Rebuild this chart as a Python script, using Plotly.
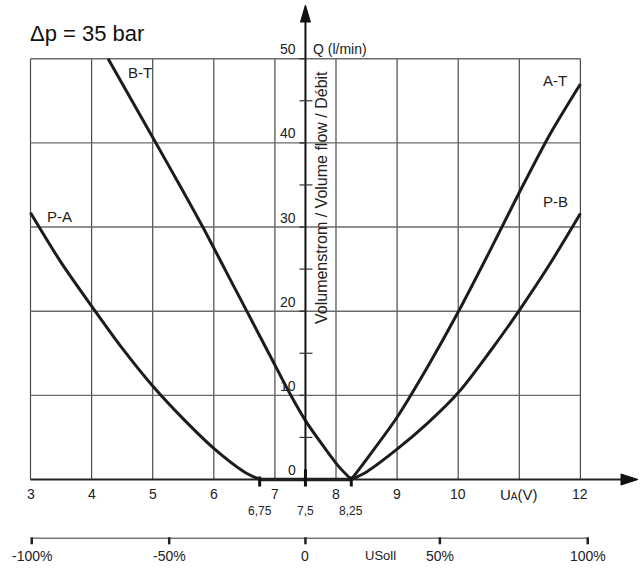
import plotly.graph_objects as go

# ---------------- data ----------------
pa_x = [3, 3.5, 4, 4.5, 5, 5.5, 6, 6.5, 6.75]
pa_y = [31.7, 25.8, 20.6, 15.6, 11.1, 7.2, 3.7, 0.9, 0]

bt_x = [4.27, 4.66, 5.05, 5.44, 5.82, 6.18, 6.54, 6.9, 7.26, 7.5, 7.8, 8.05, 8.25]
bt_y = [50, 45, 40, 35, 30, 25, 20, 15, 10, 7.0, 3.9, 1.5, 0]

at_x = [8.25, 8.5, 9, 9.5, 10, 10.5, 11, 11.5, 12]
at_y = [0, 2.4, 7.4, 13.4, 19.9, 26.9, 34.1, 41.0, 47.0]

pb_x = [8.25, 8.5, 9, 9.5, 10, 10.5, 11, 11.5, 12]
pb_y = [0, 0.9, 3.6, 6.7, 10.3, 15.0, 20.1, 25.6, 31.6]

deadband_x = [6.75, 8.25]
deadband_y = [0, 0]

curve_labels = ["P-A", "B-T", "A-T", "P-B"]
curve_label_x = [3.48, 4.79, 11.58, 11.6]
curve_label_y = [31.3, 48.4, 47.4, 33.0]

x_ticks = [3, 4, 5, 6, 7, 8, 9, 10, 12]
x_tick_labels = ["3", "4", "5", "6", "7", "8", "9", "10", "12"]
x_unit_pos = 11
x_unit_label = "U<span style='font-size:10px'>A</span>(V)"

band_ticks = [6.75, 7.5, 8.25]
band_labels = ["6,75", "7,5", "8,25"]

y_ticks = [0, 10, 20, 30, 40, 50]
y_minor = [5, 15, 25, 35, 45]

pct_pos = [3.02, 5.27, 7.5, 9.70, 12.12]
pct_labels = ["-100%", "-50%", "0", "50%", "100%"]
usoll_pos = 8.73

x_grid = [3, 4, 5, 6, 7, 8, 9, 10, 11, 12]
y_grid = [10, 20, 30, 40, 50]

# ---------------- geometry (pixel mapping) ----------------
W, H = 643, 569
PX_X = 61.1   # px per x unit
PX_Y = 8.416  # px per y unit
X0PX, Y0PX = 30.5, 479.5
xr = [3 - X0PX / PX_X, 3 + (W - X0PX) / PX_X]
yr = [-(H - Y0PX) / PX_Y, Y0PX / PX_Y]

def dx(px):
    return px / PX_X

def dy(px):
    return px / PX_Y

FONT = "Liberation Sans, Arial, sans-serif"
NARROW = "Liberation Sans Narrow, Arial Narrow, Liberation Sans, Arial, sans-serif"
CURVE = "#1c1c1c"

fig = go.Figure()
shapes = []
ann = []

# grid
for gx in x_grid:
    shapes.append(dict(type="line", x0=gx, x1=gx, y0=0, y1=50, xref="x", yref="y",
                       line=dict(color="#4a4a4a", width=1.2), layer="below"))
for gy in y_grid:
    shapes.append(dict(type="line", x0=3, x1=12, y0=gy, y1=gy, xref="x", yref="y",
                       line=dict(color="#6a6a6a", width=1.4), layer="below"))

# x axis line + arrow
x_tip = 3 + (638 - X0PX) / PX_X
x_base = 3 + (621 - X0PX) / PX_X
shapes.append(dict(type="line", x0=3, x1=x_base, y0=0, y1=0, line=dict(color="#222", width=2)))
shapes.append(dict(type="path",
                   path=f"M {x_base},{dy(5.5)} L {x_tip},0 L {x_base},{-dy(5.5)} Z",
                   fillcolor="#111", line=dict(color="#111", width=1)))

# y axis line + arrow
y_tip = (Y0PX - 5) / PX_Y
y_base = (Y0PX - 22) / PX_Y
shapes.append(dict(type="line", x0=7.5, x1=7.5, y0=0, y1=y_base, line=dict(color="#111", width=2)))
shapes.append(dict(type="path",
                   path=f"M {7.5 - dx(5)},{y_base} L 7.5,{y_tip} L {7.5 + dx(5)},{y_base} Z",
                   fillcolor="#111", line=dict(color="#111", width=1)))

# y minor ticks
for m in y_minor:
    shapes.append(dict(type="line", x0=7.5 - dx(6), x1=7.5 + dx(7), y0=m, y1=m,
                       line=dict(color="#333", width=1.2)))
# y major ticks crossing axis
for t in y_ticks[1:]:
    shapes.append(dict(type="line", x0=7.5 - dx(6), x1=7.5, y0=t, y1=t,
                       line=dict(color="#333", width=1.4)))

# deadband ticks
for i, b in enumerate(band_ticks):
    top = dy(10) if b == 7.5 else dy(3)
    shapes.append(dict(type="line", x0=b, x1=b, y0=top, y1=-dy(7),
                       line=dict(color="#111", width=3)))

# percent axis
pct_y = -(538.3 - Y0PX) / PX_Y
shapes.append(dict(type="line", x0=pct_pos[0], x1=pct_pos[-1], y0=pct_y, y1=pct_y,
                   line=dict(color="#777", width=1.6)))
for p in pct_pos:
    shapes.append(dict(type="line", x0=p, x1=p, y0=pct_y + dy(1), y1=pct_y - dy(6),
                       line=dict(color="#222", width=2.5)))

# curves
for xs, ys in [(pa_x, pa_y), (bt_x, bt_y), (at_x, at_y), (pb_x, pb_y)]:
    fig.add_trace(go.Scatter(x=xs, y=ys, mode="lines",
                             line=dict(color=CURVE, width=3, shape="spline", smoothing=0.8),
                             hoverinfo="skip", showlegend=False))
fig.add_trace(go.Scatter(x=deadband_x, y=deadband_y, mode="lines",
                         line=dict(color=CURVE, width=3.5), hoverinfo="skip", showlegend=False))

# curve labels
for t, lx, ly in zip(curve_labels, curve_label_x, curve_label_y):
    ann.append(dict(x=lx, y=ly, text=t, showarrow=False, xanchor="center", yanchor="middle",
                    font=dict(family=FONT, size=15, color="#222")))

# x tick labels
xl_y = -(494.3 - Y0PX) / PX_Y
for v, s in zip(x_ticks, x_tick_labels):
    ann.append(dict(x=v, y=xl_y, text=s, showarrow=False, xanchor="center", yanchor="middle",
                    font=dict(family=FONT, size=14, color="#222")))
ann.append(dict(x=x_unit_pos, y=xl_y, text=x_unit_label, showarrow=False, xanchor="center",
                yanchor="middle", font=dict(family=FONT, size=15, color="#222")))

# deadband labels
bl_y = -(510.5 - Y0PX) / PX_Y
for v, s in zip(band_ticks, band_labels):
    ann.append(dict(x=v, y=bl_y, text=s, showarrow=False, xanchor="center", yanchor="middle",
                    font=dict(family=NARROW, size=12, color="#222")))

# y tick labels
for v in y_ticks:
    ann.append(dict(x=7.5 - dx(7), y=v + dy(9.5), text=str(v), showarrow=False,
                    xanchor="right", yanchor="middle",
                    font=dict(family=FONT, size=14, color="#222")))
ann.append(dict(x=7.5 + dx(6), y=50 + dy(9.5), text="Q (l/min)", showarrow=False,
                xanchor="left", yanchor="middle", font=dict(family=FONT, size=14, color="#222")))

# y axis title
ann.append(dict(x=3 + (321.5 - X0PX) / PX_X, y=(Y0PX - 197.5) / PX_Y,
                text="Volumenstrom / Volume flow / Débit", showarrow=False, textangle=-90,
                xanchor="center", yanchor="middle",
                font=dict(family=FONT, size=16, color="#222")))

# percent labels
pl_y = -(555.7 - Y0PX) / PX_Y
for v, s in zip(pct_pos, pct_labels):
    ann.append(dict(x=v, y=pl_y, text=s, showarrow=False, xanchor="center", yanchor="middle",
                    font=dict(family=FONT, size=14, color="#222")))
ann.append(dict(x=usoll_pos, y=pl_y, text="USoll", showarrow=False, xanchor="center",
                yanchor="middle", font=dict(family=FONT, size=13, color="#222")))

# title
ann.append(dict(x=3 + (28 - X0PX) / PX_X, y=(Y0PX - 33) / PX_Y, text="Δp = 35 bar",
                showarrow=False, xanchor="left", yanchor="middle",
                font=dict(family=FONT, size=22, color="#111")))

fig.update_layout(
    width=W, height=H,
    margin=dict(l=0, r=0, t=0, b=0),
    paper_bgcolor="white", plot_bgcolor="white",
    xaxis=dict(range=xr, visible=False, fixedrange=True),
    yaxis=dict(range=yr, visible=False, fixedrange=True),
    shapes=shapes, annotations=ann, showlegend=False,
)

fig.write_html("out.html", config={"displayModeBar": False})
